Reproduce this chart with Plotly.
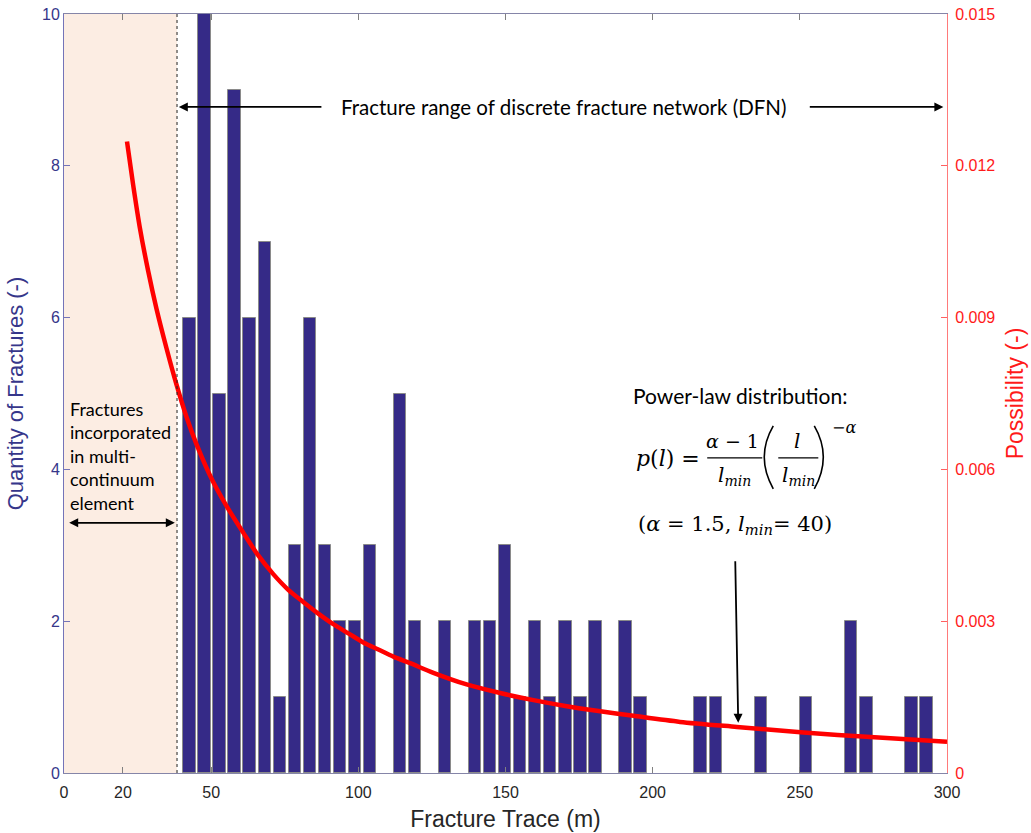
import plotly.graph_objects as go

# ---------------- data ----------------
bin_centers = [42.6, 47.7, 52.8, 57.9, 63.0, 68.2, 73.3, 78.4, 83.5, 88.6,
               93.7, 98.8, 103.9, 109.0, 114.1, 119.3, 124.4, 129.5, 134.6, 139.7,
               144.8, 149.9, 155.0, 160.1, 165.2, 170.4, 175.5, 180.6, 185.7, 190.8,
               195.9, 201.0, 206.1, 211.2, 216.3, 221.5, 226.6, 231.7, 236.8, 241.9,
               247.0, 252.1, 257.2, 262.3, 267.4, 272.6, 277.7, 282.8, 287.9, 293.0]
counts = [6, 10, 5, 9, 6, 7, 1, 3, 6, 3,
          2, 2, 3, 0, 5, 2, 0, 2, 0, 2,
          2, 3, 1, 2, 1, 2, 1, 2, 0, 2,
          1, 0, 0, 0, 1, 1, 0, 0, 1, 0,
          0, 1, 0, 0, 2, 1, 0, 0, 1, 1]

curve_x = [21.4, 23.5, 25.7, 28.6, 31.4, 34.8, 38.2, 41.6, 45.0, 50.7,
           55.8, 60.9, 66.0, 71.1, 76.2, 81.3, 86.4, 91.5, 96.6, 101.7,
           106.8, 111.9, 117.6, 125.5, 136.8, 148.2, 159.5, 170.8, 182.2,
           193.5, 209.3, 228.6, 251.3, 274.0, 300.0]
curve_p = [0.01248, 0.01162, 0.01080, 0.00992, 0.00918, 0.00840, 0.00768, 0.00704, 0.00650, 0.00575,
           0.00522, 0.00475, 0.00430, 0.00393, 0.00362, 0.00338, 0.00315, 0.00294, 0.00276, 0.00258,
           0.00244, 0.00230, 0.00217, 0.00198, 0.00175, 0.00158, 0.00144, 0.00132, 0.00122,
           0.00113, 0.00101, 0.00091, 0.00080, 0.00071, 0.00062]

x_ticks = [0, 20, 50, 100, 150, 200, 250, 300]
y_ticks = [0, 2, 4, 6, 8, 10]
y2_ticks = [0, 0.003, 0.006, 0.009, 0.012, 0.015]
y2_labels = ["0", "0.003", "0.006", "0.009", "0.012", "0.015"]
mc_limit = 38.4   # boundary between multi-continuum and DFN fractures

# ---------------- helpers (pixel -> axis units, for text placement) ----------------
def X(px):
    return (px - 64.3) / 2.941

def Y(py):
    return (773.3 - py) / 75.93

BAR_COLOR = "rgb(53,42,135)"
AX_BLUE = "#7474b8"
TXT_BLUE = "#36368a"
RED = "#ff1a1a"
TXT_FONT = "Lato"
MATH_FONT = "DejaVu Serif"

fig = go.Figure()

fig.add_trace(go.Bar(
    x=bin_centers, y=counts, width=4.2,
    marker=dict(color=BAR_COLOR,
                line=dict(color="#8a8a8a", width=[1 if c > 0 else 0 for c in counts])),
    yaxis="y", showlegend=False,
))

fig.add_trace(go.Scatter(
    x=curve_x, y=curve_p, mode="lines", yaxis="y2",
    line=dict(color="#ff0000", width=4.5, shape="spline", smoothing=0.8),
    showlegend=False,
))

def paren(pts):
    (x0, y0), (cx, cy), (x1, y1) = pts
    return (f"M {X(x0)},{Y(y0)} Q {X(cx)},{Y(cy)} {X(x1)},{Y(y1)}")

shapes = [
    dict(type="rect", xref="x", yref="paper", x0=0, x1=mc_limit, y0=0, y1=1,
         fillcolor="#fcede3", line=dict(width=0), layer="below"),
    dict(type="line", xref="x", yref="paper", x0=mc_limit, x1=mc_limit, y0=0, y1=1,
         line=dict(color="#222222", width=1, dash="dot")),
    # fraction bars of the formula
    dict(type="line", xref="x", yref="y", x0=X(707), x1=X(762), y0=Y(458), y1=Y(458),
         line=dict(color="black", width=1.3)),
    dict(type="line", xref="x", yref="y", x0=X(778), x1=X(818), y0=Y(458), y1=Y(458),
         line=dict(color="black", width=1.3)),
    # big parentheses
    dict(type="path", xref="x", yref="y",
         path=paren([(773, 426), (755, 457), (773, 489)]),
         line=dict(color="black", width=1.6)),
    dict(type="path", xref="x", yref="y",
         path=paren([(814, 426), (832, 457), (814, 489)]),
         line=dict(color="black", width=1.6)),
]

ann = []
def txt(s, px, py, size, font=TXT_FONT, xanchor="center", align="center", color="black"):
    ann.append(dict(text=s, x=X(px), y=Y(py), xref="x", yref="y", showarrow=False,
                    xanchor=xanchor, yanchor="middle", align=align,
                    font=dict(family=font, size=size, color=color)))

def arrow(px0, py0, px1, py1, both=False):
    d = dict(text="", x=X(px1), y=Y(py1), ax=X(px0), ay=Y(py0), xref="x", yref="y",
             axref="x", ayref="y", showarrow=True, arrowhead=2, arrowsize=1,
             arrowwidth=1.8, arrowcolor="black", standoff=0, startstandoff=0)
    if both:
        d.update(arrowside="end+start", startarrowhead=2, startarrowsize=1)
    ann.append(d)

# DFN range
txt("Fracture range of discrete fracture network (DFN)", 563, 107, 20.5)
arrow(323, 107, 179, 107)
arrow(808, 107, 943, 107)

# multi-continuum
txt("Fractures<br>incorporated<br>in multi-<br>continuum<br>element", 68, 456, 18,
    xanchor="left", align="left")
arrow(68, 523, 175, 523, both=True)

# power-law text and formula
txt("Power-law distribution:", 740, 396, 21)
txt("<i>p</i>(<i>l</i>) =", 668, 459, 22, font=MATH_FONT)
txt("<i>α</i> − 1", 732, 441, 19, font=MATH_FONT)
txt("<i>l</i><sub><i>min</i></sub>", 734, 476, 20, font=MATH_FONT)
txt("<i>l</i>", 797, 441, 20, font=MATH_FONT)
txt("<i>l</i><sub><i>min</i></sub>", 798, 476, 20, font=MATH_FONT)
txt("−<i>α</i>", 844, 428, 16, font=MATH_FONT)
txt("(<i>α</i> = 1.5, <i>l</i><sub><i>min</i></sub>= 40)", 735, 525, 21, font=MATH_FONT)
arrow(735, 560, 738, 723)

fig.update_layout(
    width=1031, height=833,
    margin=dict(l=64, r=84, t=14, b=60),
    paper_bgcolor="white", plot_bgcolor="white",
    bargap=0, shapes=shapes, annotations=ann,
    font=dict(family="Liberation Sans"),
    xaxis=dict(
        range=[0, 300], tickvals=x_ticks, ticks="inside", ticklen=6,
        tickcolor="#808080", showline=True, linecolor="#8585a8", linewidth=1,
        mirror="ticks", showgrid=False, zeroline=False, ticklabelstandoff=5,
        automargin=False,
        tickfont=dict(size=16, color="#262626", family="Liberation Sans"),
        title=dict(text="Fracture Trace (m)", standoff=10,
                   font=dict(size=23, color="#262626", family="Liberation Sans")),
    ),
    yaxis=dict(
        range=[0, 10], tickvals=y_ticks, ticks="inside", ticklen=6,
        tickcolor=AX_BLUE, showline=True, linecolor=AX_BLUE, linewidth=1,
        showgrid=False, zeroline=False, automargin=False,
        tickfont=dict(size=16, color=TXT_BLUE, family="Liberation Sans"),
        title=dict(text="Quantity of Fractures (-)", standoff=12,
                   font=dict(size=22, color=TXT_BLUE, family="Liberation Sans")),
    ),
    yaxis2=dict(
        range=[0, 0.015], tickvals=y2_ticks, ticktext=y2_labels, overlaying="y",
        side="right", anchor="x", ticks="inside", ticklen=6, tickcolor="#ff6060",
        showline=True, linecolor="#ff7a7a", linewidth=1, showgrid=False, zeroline=False,
        ticklabelstandoff=4, automargin=False,
        tickfont=dict(size=16, color=RED, family="Liberation Sans"),
        title=dict(text="Possibility (-)", standoff=12,
                   font=dict(size=23, color=RED, family="Liberation Sans")),
    ),
)

fig.write_html("out.html")
